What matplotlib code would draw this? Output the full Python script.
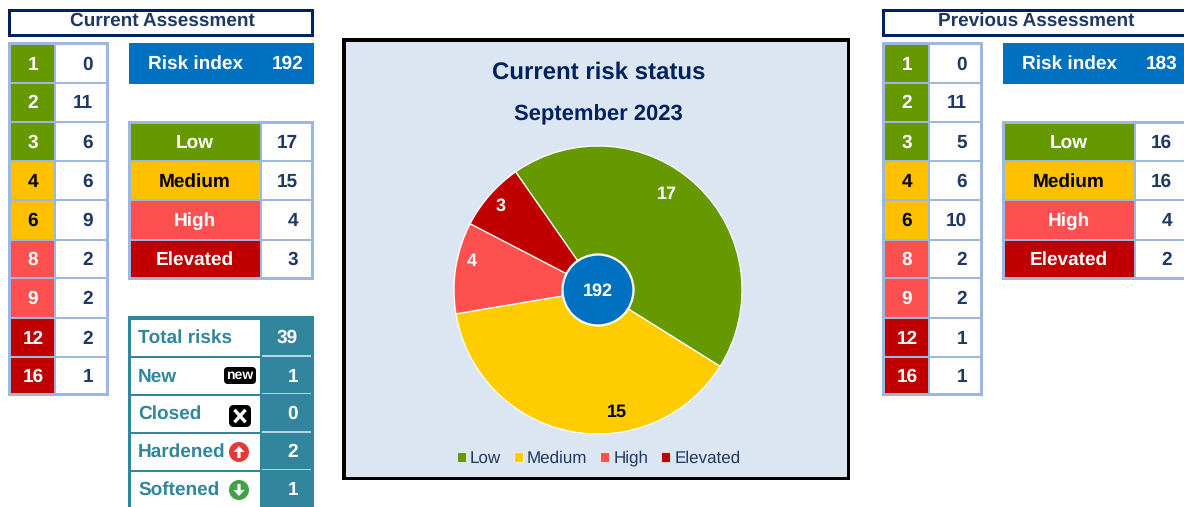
import matplotlib.pyplot as plt
from matplotlib.patches import Rectangle, Circle, FancyBboxPatch, FancyArrow

plt.rcParams['font.family'] = ['Liberation Sans', 'DejaVu Sans']
plt.rcParams['text.hinting'] = 'no_hinting'
plt.rcParams['text.hinting_factor'] = 1

W, H = 1184, 507

NAVY = '#002060'
TEXT = '#1F3864'
EDGE = '#9DB8DC'
BLUE = '#0070C0'
TEAL = '#31859C'
GREEN = '#669900'
AMBER = '#FFC000'
RED = '#FF5050'
DARK = '#C00000'

scores = [1, 2, 3, 4, 6, 8, 9, 12, 16]
score_colors = [GREEN, GREEN, GREEN, AMBER, AMBER, RED, RED, DARK, DARK]
score_text = ['white', 'white', 'white', 'black', 'black', 'white', 'white', 'white', 'white']
current_counts = [0, 11, 6, 6, 9, 2, 2, 2, 1]
previous_counts = [0, 11, 5, 6, 10, 2, 2, 1, 1]

levels = ['Low', 'Medium', 'High', 'Elevated']
level_colors = [GREEN, AMBER, RED, DARK]
level_text = ['white', 'black', 'white', 'white']
current_levels = [17, 15, 4, 3]
previous_levels = [16, 16, 4, 2]
pie_colors = ['#669900', '#FFCC00', '#FF5050', '#C00000']

current_index = 192
previous_index = 183

movement_names = ['Total risks', 'New', 'Closed', 'Hardened', 'Softened']
movement_values = [39, 1, 0, 2, 1]

# pixel rows of the tables (top, bottom)
score_rows = [(45, 82), (84, 120.5), (122.5, 160), (162, 199), (201, 239),
              (241, 277), (279, 317), (319, 356), (358, 393)]
level_rows = [(123.5, 160), (162, 199), (201, 239), (241, 277)]
movement_rows = [(320, 356), (358, 393.5), (396, 432), (434, 469.5), (472, 510)]
movement_text_y = [337, 375.5, 412.5, 451, 489]

fig = plt.figure(figsize=(W / 100, H / 100), dpi=100, facecolor='white')
ax = fig.add_axes([0, 0, 1, 1])


def box(x0, y0, x1, y1, color, z=1, **kw):
    # x0,y0 = top left in pixels from the top of the figure
    ax.add_patch(Rectangle((x0, H - y1), x1 - x0, y1 - y0, facecolor=color,
                           edgecolor='none', zorder=z, **kw))


def label(x, y, s, color=TEXT, size=13.6, ha='center', weight='bold', z=6):
    # va='center' sits a little high for this font, hence the offset
    ax.text(x, H - y - 1.2, s, color=color, fontsize=size, ha=ha, va='center',
            fontweight=weight, zorder=z)


def assessment(dx, title, counts, level_counts, index):
    # header
    box(8 + dx, 9, 314 + dx, 37, NAVY)
    box(11 + dx, 12, 311 + dx, 34, 'white', z=2)
    label(162 + dx, 20, title)

    # score table
    box(8 + dx, 42, 108.5 + dx, 396, EDGE)
    for i, (top, bottom) in enumerate(score_rows):
        box(11 + dx, top, 54 + dx, bottom, score_colors[i], z=2)
        box(56 + dx, top, 105.5 + dx, bottom, 'white', z=2)
        label(33 + dx, (top + bottom) / 2, str(scores[i]), color=score_text[i])
        label(93 + dx, (top + bottom) / 2, str(counts[i]), ha='right')

    # risk index
    box(129 + dx, 43, 314 + dx, 84, BLUE)
    label(196 + dx, 63, 'Risk index', color='white')
    label(303 + dx, 63, str(index), color='white', ha='right')

    # level table
    box(128 + dx, 120.5, 314 + dx, 280, EDGE)
    for i, (top, bottom) in enumerate(level_rows):
        box(131 + dx, top, 260 + dx, bottom, level_colors[i], z=2)
        box(262 + dx, top, 311 + dx, bottom, 'white', z=2)
        label(195 + dx, (top + bottom) / 2, levels[i], color=level_text[i])
        label(298 + dx, (top + bottom) / 2, str(level_counts[i]), ha='right')


assessment(0, 'Current Assessment', current_counts, current_levels, current_index)
assessment(874, 'Previous Assessment', previous_counts, previous_levels, previous_index)

# movement table
box(128, 316, 314, 510, TEAL)
for i, (top, bottom) in enumerate(movement_rows):
    box(131, top, 260, bottom, 'white', z=2)
    label(138, movement_text_y[i], movement_names[i], color=TEAL, ha='left')
    label(298, movement_text_y[i], str(movement_values[i]), color='white', ha='right')
    if i < 4:
        box(262, bottom - 1, 311, bottom + 0.5, '#B7D3DC', z=2)

# small status icons
ax.add_patch(FancyBboxPatch((226, H - 382), 28, 13, boxstyle='round,pad=2,rounding_size=4',
                            facecolor='black', edgecolor='none', zorder=3))
label(240, 374.5, 'new', color='white', size=9.8)
ax.add_patch(FancyBboxPatch((232, H - 424), 16, 16, boxstyle='round,pad=3,rounding_size=5',
                            facecolor='black', edgecolor='none', zorder=3))
ax.plot([235.5, 244.5], [H - 411, H - 421], color='white', lw=2.4, zorder=4)
ax.plot([235.5, 244.5], [H - 421, H - 411], color='white', lw=2.4, zorder=4)
ax.add_patch(Circle((239, H - 452), 10, facecolor='#E53935', edgecolor='none', zorder=3))
ax.add_patch(FancyArrow(239, H - 458, 0, 12, width=3.2, head_width=11, head_length=6,
                        length_includes_head=True, facecolor='white', edgecolor='none', zorder=4))
ax.add_patch(Circle((239, H - 490), 10, facecolor='#43A047', edgecolor='none', zorder=3))
ax.add_patch(FancyArrow(239, H - 484, 0, -12, width=3.2, head_width=11, head_length=6,
                        length_includes_head=True, facecolor='white', edgecolor='none', zorder=4))

# middle panel
box(342, 38, 850, 480, 'black')
box(346, 42, 847, 477, '#DCE6F2', z=1.5)
label(599, 71, 'Current risk status', color=NAVY, size=17.2)
label(598.5, 114, 'September 2023', color=NAVY, size=15.7)

# clockwise from the top left, slice sizes are the current level counts
wedges, _ = ax.pie(current_levels, colors=pie_colors, startangle=124.9, counterclock=False,
                   center=(598, H - 290), radius=144,
                   wedgeprops={'edgecolor': 'white', 'linewidth': 0.9, 'zorder': 3})
ax.add_patch(Circle((598, H - 290), 35.5, facecolor=BLUE, edgecolor='white', linewidth=1.6, zorder=4))
label(598, 289.5, str(current_index), color='white', size=13.2)

label(667, 193, str(current_levels[0]), color='white', size=13)
label(617, 411, str(current_levels[1]), color='black', size=13)
label(471.5, 260, str(current_levels[2]), color='white', size=13)
label(501, 205, str(current_levels[3]), color='white', size=13)

leg = ax.legend(wedges, levels, ncols=4, loc='center', bbox_to_anchor=(598.5 / W, 1 - 458.5 / H),
                bbox_transform=fig.transFigure, frameon=False, fontsize=12,
                handlelength=0.55, handleheight=0.55, handletextpad=0.25, columnspacing=0.75,
                borderpad=0, labelcolor=TEXT)
leg.set_zorder(6)
for h in leg.legend_handles:
    h.set_edgecolor('white')
    h.set_linewidth(0.5)

ax.set_xlim(0, W)
ax.set_ylim(0, H)
ax.set_aspect('auto')
ax.axis('off')

fig.savefig('out.png', dpi=100)
